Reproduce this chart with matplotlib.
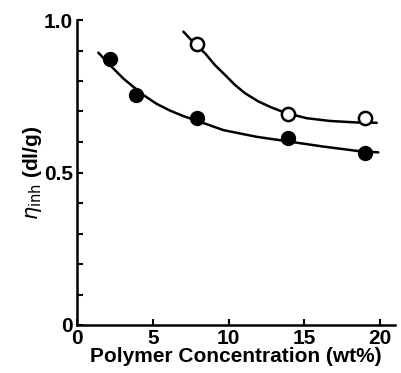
import matplotlib
matplotlib.use("Agg")
import matplotlib.pyplot as plt
from matplotlib.ticker import MultipleLocator

# Data
filled_x = [2.2, 3.9, 7.9, 13.9, 19.0]
filled_y = [0.871, 0.754, 0.678, 0.614, 0.565]
open_x = [7.9, 13.9, 19.0]
open_y = [0.920, 0.692, 0.680]

# hand-drawn curves
curve1_x = [1.41, 2.18, 3.06, 3.72, 4.38, 5.26, 6.14, 7.02, 7.90, 9.66,
            11.86, 14.06, 16.26, 18.46, 19.89]
curve1_y = [0.893, 0.852, 0.808, 0.781, 0.754, 0.725, 0.703, 0.685, 0.670,
            0.639, 0.617, 0.601, 0.585, 0.571, 0.566]
curve2_x = [7.02, 7.79, 8.45, 9.11, 9.77, 10.43, 11.09, 11.97, 12.85, 13.73,
            15.16, 16.70, 18.46, 19.78]
curve2_y = [0.962, 0.921, 0.891, 0.852, 0.820, 0.787, 0.760, 0.733, 0.713,
            0.696, 0.678, 0.669, 0.664, 0.663]

x_ticks = [0, 5, 10, 15, 20]
y_ticks = [0, 0.5, 1.0]
y_tick_labels = ["0", "0.5", "1.0"]

plt.rcParams['font.family'] = ['Liberation Sans', 'DejaVu Sans']
fig = plt.figure(figsize=(4.01, 3.73), dpi=100)
ax = fig.add_axes([77/401, 1-325/373, 21*15.15/401, 305/373])

ax.plot(curve1_x, curve1_y, color='black', lw=1.8, zorder=2,
        solid_joinstyle='round', solid_capstyle='round')
ax.plot(curve2_x, curve2_y, color='black', lw=1.8, zorder=2,
        solid_joinstyle='round', solid_capstyle='round')
ax.plot(filled_x, filled_y, 'o', color='black', ms=10, zorder=3)
ax.plot(open_x, open_y, 'o', mfc='white', mec='black', mew=1.8, ms=9.5, zorder=3)

ax.set_xlim(0, 21)
ax.set_ylim(0, 1.0)
for s in ['top', 'right']:
    ax.spines[s].set_visible(False)
ax.spines['left'].set_linewidth(1.8)
ax.spines['bottom'].set_linewidth(1.8)

ax.set_xticks(x_ticks)
ax.set_xticklabels([str(t) for t in x_ticks])
ax.set_yticks(y_ticks)
ax.set_yticklabels(y_tick_labels)
ax.yaxis.set_minor_locator(MultipleLocator(0.1))
ax.tick_params(axis='both', which='both', direction='in', width=1.5, labelsize=15)
ax.tick_params(axis='x', which='major', length=4, pad=3)
ax.tick_params(axis='y', which='major', length=4, pad=3)
ax.tick_params(axis='y', which='minor', length=4)
for lbl in ax.get_xticklabels() + ax.get_yticklabels():
    lbl.set_fontweight('bold')

ax.set_xlabel('Polymer Concentration (wt%)', fontsize=15, fontweight='bold', labelpad=-1)
ax.set_ylabel(r'$\eta_{\mathrm{inh}}$ (dl/g)', fontsize=15, fontweight='bold', labelpad=0)

fig.savefig('out.png', dpi=100)
